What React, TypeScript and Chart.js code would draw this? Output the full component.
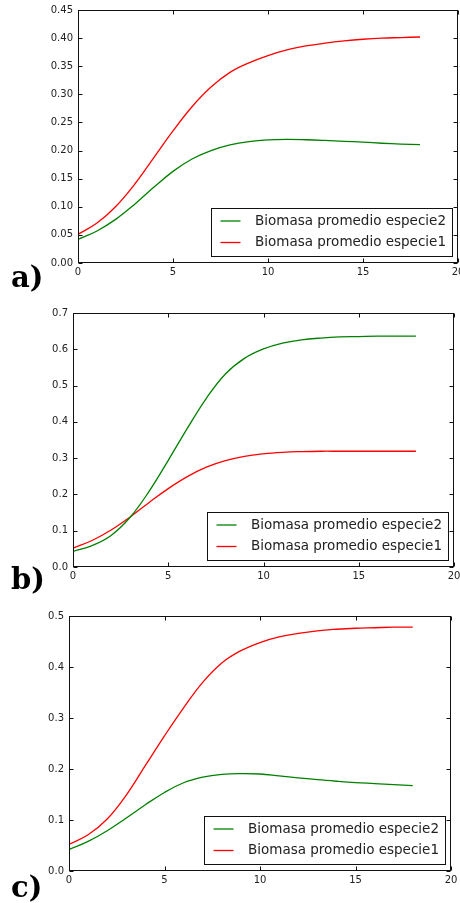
import React, { useEffect, useRef } from 'react';
import Chart from 'chart.js/auto';

// ---- data ----
const xValues = [0, 1, 2, 3, 4, 5, 6, 7, 8, 9, 10, 11, 12, 13, 14, 15, 16, 17, 18];
const xTicks = [0, 5, 10, 15, 20];

const seriesLabels = ['Biomasa promedio especie2', 'Biomasa promedio especie1'];
const seriesColors = ['#008000', '#ff0000'];

// panel a
const aEspecie2 = [0.042, 0.057, 0.078, 0.105, 0.135, 0.163, 0.185, 0.2, 0.21, 0.216, 0.219, 0.2198, 0.2192, 0.218, 0.2165, 0.215, 0.213, 0.2115, 0.2105];
const aEspecie1 = [0.051, 0.071, 0.101, 0.141, 0.188, 0.235, 0.278, 0.313, 0.339, 0.356, 0.369, 0.379, 0.386, 0.391, 0.395, 0.398, 0.4, 0.401, 0.402];
const yTicksA = [0, 0.05, 0.1, 0.15, 0.2, 0.25, 0.3, 0.35, 0.4, 0.45];

// panel b
const bEspecie2 = [0.043, 0.059, 0.087, 0.137, 0.209, 0.294, 0.382, 0.465, 0.532, 0.575, 0.601, 0.617, 0.626, 0.631, 0.634, 0.635, 0.636, 0.636, 0.636];
const bEspecie1 = [0.052, 0.073, 0.102, 0.138, 0.178, 0.216, 0.249, 0.275, 0.293, 0.305, 0.312, 0.316, 0.318, 0.319, 0.319, 0.319, 0.319, 0.319, 0.319];
const yTicksB = [0, 0.1, 0.2, 0.3, 0.4, 0.5, 0.6, 0.7];

// panel c
const cEspecie2 = [0.042, 0.058, 0.079, 0.104, 0.13, 0.154, 0.173, 0.184, 0.1895, 0.191, 0.1902, 0.1865, 0.1826, 0.179, 0.176, 0.1734, 0.1715, 0.1695, 0.1675];
const cEspecie1 = [0.052, 0.071, 0.102, 0.149, 0.207, 0.265, 0.32, 0.37, 0.408, 0.432, 0.448, 0.459, 0.466, 0.471, 0.474, 0.476, 0.477, 0.478, 0.478];
const yTicksC = [0, 0.1, 0.2, 0.3, 0.4, 0.5];

const panelLabels = ['a)', 'b)', 'c)'];

// ---- plugin: matplotlib-like frame, inward ticks, legend, panel label ----
const mplPlugin = {
  id: 'mpl',
  afterDatasetsDraw(chart: any, _args: any, opts: any) {
    const { ctx, chartArea: ca, scales } = chart;
    const L = Math.round(ca.left) + 0.5;
    const R = Math.round(ca.right) - 0.5;
    const T = Math.round(ca.top) + 0.5;
    const B = Math.round(ca.bottom) - 0.5;
    ctx.save();
    ctx.strokeStyle = '#111';
    ctx.lineWidth = 1;
    ctx.beginPath();
    const tl = 4;
    scales.x.ticks.forEach((t: any) => {
      const px = Math.round(scales.x.getPixelForValue(t.value)) + 0.5;
      ctx.moveTo(px, T); ctx.lineTo(px, T + tl);
      ctx.moveTo(px, B); ctx.lineTo(px, B - tl);
    });
    scales.y.ticks.forEach((t: any) => {
      const py = Math.round(scales.y.getPixelForValue(t.value)) + 0.5;
      ctx.moveTo(L, py); ctx.lineTo(L + tl, py);
      ctx.moveTo(R, py); ctx.lineTo(R - tl, py);
    });
    ctx.stroke();
    ctx.strokeRect(L, T, R - L, B - T);

    // legend
    ctx.font = '13.5px "DejaVu Sans"';
    const ds = chart.data.datasets;
    let tw = 0;
    ds.forEach((d: any) => { tw = Math.max(tw, ctx.measureText(d.label).width); });
    const boxW = Math.round(44 + tw + 6);
    const boxH = 48;
    const boxR = Math.round(ca.right) - 6;
    const boxB = Math.round(ca.bottom) - 7;
    const boxL = boxR - boxW;
    const boxT = boxB - boxH;
    ctx.fillStyle = '#fff';
    ctx.fillRect(boxL, boxT, boxW, boxH);
    ctx.strokeStyle = '#111';
    ctx.strokeRect(boxL + 0.5, boxT + 0.5, boxW, boxH);
    ds.forEach((d: any, i: number) => {
      const cy = boxT + 13 + i * 21.5;
      ctx.strokeStyle = d.borderColor;
      ctx.lineWidth = 1.3;
      ctx.beginPath();
      ctx.moveTo(boxL + 9.5, cy);
      ctx.lineTo(boxL + 29.5, cy);
      ctx.stroke();
      ctx.fillStyle = '#222';
      ctx.textBaseline = 'middle';
      ctx.textAlign = 'left';
      ctx.fillText(d.label, boxL + 44, cy);
    });

    // panel label
    ctx.fillStyle = '#000';
    ctx.font = 'bold 29px "DejaVu Serif"';
    ctx.textBaseline = 'alphabetic';
    ctx.textAlign = 'left';
    ctx.fillText(opts.label, 11, opts.baseline);
    ctx.restore();
  },
};

type PanelProps = {
  top: number;
  height: number;
  area: { left: number; top: number; right: number; bottom: number };
  s2: number[];
  s1: number[];
  yTicks: number[];
  decimals: number;
  label: string;
  baseline: number;
};

function Panel(p: PanelProps) {
  const ref = useRef<HTMLCanvasElement>(null);
  useEffect(() => {
    const W = 460;
    const chart = new Chart(ref.current as HTMLCanvasElement, {
      type: 'line',
      data: {
        datasets: [
          {
            label: seriesLabels[0],
            data: xValues.map((x, i) => ({ x, y: p.s2[i] })),
            borderColor: seriesColors[0],
            borderWidth: 1.3,
            pointRadius: 0,
            tension: 0.4,
            fill: false,
          },
          {
            label: seriesLabels[1],
            data: xValues.map((x, i) => ({ x, y: p.s1[i] })),
            borderColor: seriesColors[1],
            borderWidth: 1.3,
            pointRadius: 0,
            tension: 0.4,
            fill: false,
          },
        ],
      },
      options: {
        responsive: false,
        animation: false,
        events: [],
        layout: { padding: { top: p.area.top, right: W - p.area.right, left: 0, bottom: 0 } },
        plugins: {
          legend: { display: false },
          tooltip: { enabled: false },
          mpl: { label: p.label, baseline: p.baseline },
        } as any,
        scales: {
          x: {
            type: 'linear',
            min: 0,
            max: 20,
            grid: { display: false, drawTicks: false },
            border: { display: false },
            afterBuildTicks: (s: any) => { s.ticks = xTicks.map((v) => ({ value: v })); },
            afterFit: (s: any) => { s.height = p.height - p.area.bottom; s.paddingLeft = 0; s.paddingRight = 0; },
            ticks: {
              autoSkip: false,
              maxRotation: 0,
              padding: 3,
              color: '#222',
              font: { family: 'DejaVu Sans', size: 10 },
              callback: (v: any) => String(v),
            },
          },
          y: {
            type: 'linear',
            min: 0,
            max: p.yTicks[p.yTicks.length - 1],
            grid: { display: false, drawTicks: false },
            border: { display: false },
            afterBuildTicks: (s: any) => { s.ticks = p.yTicks.map((v) => ({ value: v })); },
            afterFit: (s: any) => { s.width = p.area.left; s.paddingTop = 0; s.paddingBottom = 0; },
            ticks: {
              autoSkip: false,
              padding: 5,
              color: '#222',
              font: { family: 'DejaVu Sans', size: 10 },
              callback: (v: any) => Number(v).toFixed(p.decimals),
            },
          },
        },
      } as any,
      plugins: [mplPlugin],
    });
    return () => chart.destroy();
  }, []);
  return (
    <canvas
      ref={ref}
      width={460}
      height={p.height}
      style={{ position: 'absolute', left: 0, top: p.top, width: 460, height: p.height, display: 'block' }}
    />
  );
}

export default function App() {
  return (
    <div style={{ position: 'absolute', left: 0, top: 0, width: 460, height: 903, background: '#fff' }}>
      <Panel top={0} height={300} area={{ left: 78, top: 10, right: 458, bottom: 263 }}
        s2={aEspecie2} s1={aEspecie1} yTicks={yTicksA} decimals={2} label={panelLabels[0]} baseline={287} />
      <Panel top={300} height={300} area={{ left: 73, top: 13, right: 454, bottom: 267 }}
        s2={bEspecie2} s1={bEspecie1} yTicks={yTicksB} decimals={1} label={panelLabels[1]} baseline={289} />
      <Panel top={600} height={303} area={{ left: 69, top: 16, right: 451, bottom: 271 }}
        s2={cEspecie2} s1={cEspecie1} yTicks={yTicksC} decimals={1} label={panelLabels[2]} baseline={297} />
    </div>
  );
}
